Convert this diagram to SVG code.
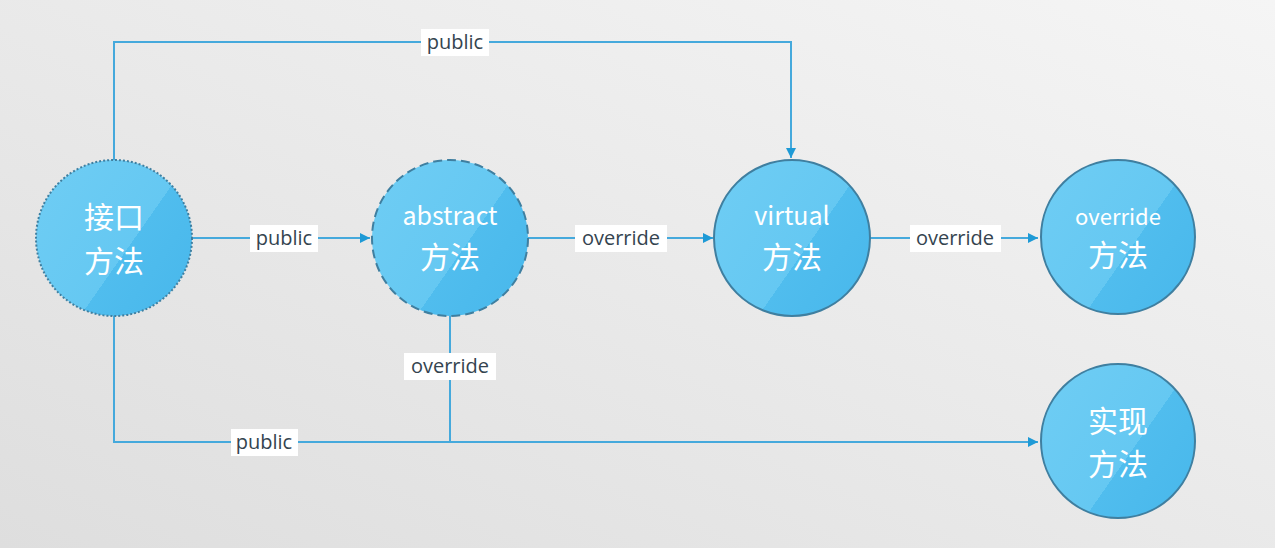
<svg xmlns="http://www.w3.org/2000/svg" width="1275" height="548" viewBox="0 0 1275 548">
<defs>
<linearGradient id="bg" x1="1" y1="0" x2="0" y2="1">
<stop offset="0" stop-color="#f5f5f5"/>
<stop offset="1" stop-color="#dedede"/>
</linearGradient>
<linearGradient id="nf" x1="0" y1="0" x2="1" y2="0.7">
<stop offset="0" stop-color="#6fcdf4"/>
<stop offset="0.66" stop-color="#65c8f2"/>
<stop offset="0.66" stop-color="#50bdee"/>
<stop offset="1" stop-color="#4ab9ec"/>
</linearGradient>
<marker id="arr" viewBox="0 0 10 10" refX="10" refY="5" markerWidth="10" markerHeight="10" markerUnits="userSpaceOnUse" orient="auto">
<path d="M0,0 L10,5 L0,10 z" fill="#1e9ad6"/>
</marker>
<style>
.conn{fill:none;stroke:#45a9dc;stroke-width:2}
.node{fill:url(#nf);stroke:#3f7fa0;stroke-width:2}
.nt{font-family:"Noto Sans CJK SC","Noto Sans",sans-serif;fill:#ffffff;text-anchor:middle}
.lb{fill:#ffffff}
.lt{font-family:"Open Sans","Noto Sans",sans-serif;font-size:20px;fill:#34444f;text-anchor:middle}
</style>
</defs>
<rect width="1275" height="548" fill="url(#bg)"/>
<g id="connectors">
<path class="conn" d="M114,160 V42 H791 V158" marker-end="url(#arr)"/>
<path class="conn" d="M193,238 H370" marker-end="url(#arr)"/>
<path class="conn" d="M528,238 H713" marker-end="url(#arr)"/>
<path class="conn" d="M870,238 H1038" marker-end="url(#arr)"/>
<path class="conn" d="M114,316 V442 H1038" marker-end="url(#arr)"/>
<path class="conn" d="M450,316 V442"/>
<rect class="lb" x="421" y="29" width="68" height="27"/>
<text class="lt" x="455" y="49">public</text>
<rect class="lb" x="250" y="225" width="68" height="27"/>
<text class="lt" x="284" y="245">public</text>
<rect class="lb" x="575" y="225" width="92" height="27"/>
<text class="lt" x="621" y="245">override</text>
<rect class="lb" x="910" y="225" width="91" height="27"/>
<text class="lt" x="955" y="245">override</text>
<rect class="lb" x="404" y="353" width="92" height="27"/>
<text class="lt" x="450" y="373">override</text>
<rect class="lb" x="231" y="429" width="67" height="27"/>
<text class="lt" x="264" y="449">public</text>
</g>
<g id="node-interface">
<circle class="node" cx="114" cy="238" r="78" stroke-dasharray="2 2"/>
<text class="nt" x="114" y="228" font-size="30">接口</text>
<text class="nt" x="114" y="272" font-size="30">方法</text>
</g>
<g id="node-abstract">
<circle class="node" cx="450" cy="238" r="78" stroke-dasharray="9 5"/>
<text class="nt" x="450" y="225" font-size="25">abstract</text>
<text class="nt" x="450" y="268" font-size="30">方法</text>
</g>
<g id="node-virtual">
<circle class="node" cx="792" cy="238" r="78"/>
<text class="nt" x="792" y="225" font-size="25">virtual</text>
<text class="nt" x="792" y="268" font-size="30">方法</text>
</g>
<g id="node-override">
<circle class="node" cx="1118" cy="237" r="77"/>
<text class="nt" x="1118" y="225" font-size="22">override</text>
<text class="nt" x="1118" y="266" font-size="30">方法</text>
</g>
<g id="node-implement">
<circle class="node" cx="1118" cy="441" r="77"/>
<text class="nt" x="1118" y="432" font-size="30">实现</text>
<text class="nt" x="1118" y="475" font-size="30">方法</text>
</g>
</svg>
